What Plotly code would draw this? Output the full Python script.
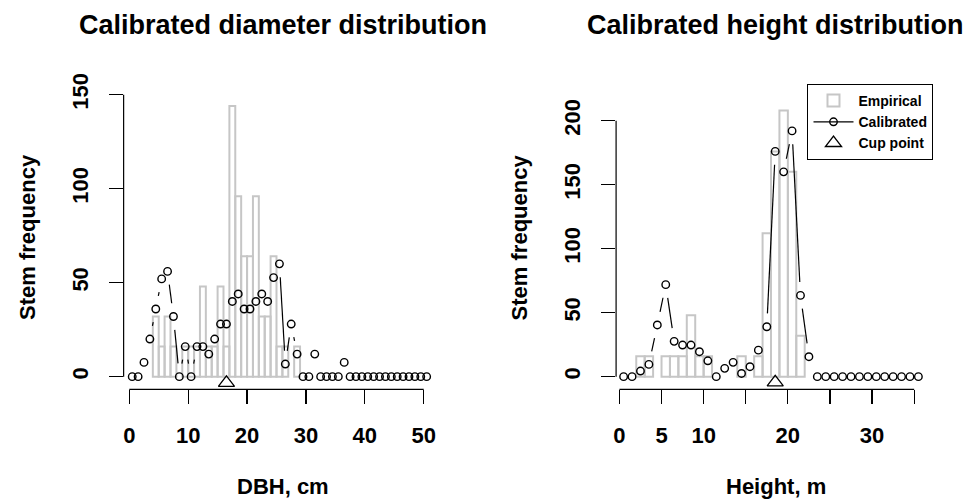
import math
import plotly.graph_objects as go

# ---------------- data ----------------
dbh_mid = [0.5, 1.5, 2.5, 3.5, 4.5, 5.5, 6.5, 7.5, 8.5, 9.5, 10.5, 11.5, 12.5, 13.5, 14.5, 15.5,
           16.5, 17.5, 18.5, 19.5, 20.5, 21.5, 22.5, 23.5, 24.5, 25.5, 26.5, 27.5, 28.5, 29.5,
           30.5, 31.5, 32.5, 33.5, 34.5, 35.5, 36.5, 37.5, 38.5, 39.5, 40.5, 41.5, 42.5, 43.5,
           44.5, 45.5, 46.5, 47.5, 48.5, 49.5, 50.5]
dbh_empirical = [0, 0, 0, 0, 32, 16, 32, 16, 0, 16, 16, 16, 48, 16, 16, 48,
                 16, 144, 96, 64, 64, 96, 32, 32, 64, 16, 16, 0, 16, 0,
                 0, 0, 0, 0, 0, 0, 0, 0, 0, 0, 0, 0, 0, 0,
                 0, 0, 0, 0, 0, 0, 0]
dbh_calibrated = [0, 0, 7.6, 20, 36, 52, 56, 32, 0, 16, 0, 16, 16, 12, 20, 28,
                  28, 40, 44, 36, 36, 40, 44, 40, 52.7, 60, 6.7, 28, 12, 0,
                  0, 12, 0, 0, 0, 0, 7.6, 0, 0, 0, 0, 0, 0, 0,
                  0, 0, 0, 0, 0, 0, 0]
dbh_cup_x = [16.5]
dbh_cup_y = [-3.3]

ht_mid = [0.5, 1.5, 2.5, 3.5, 4.5, 5.5, 6.5, 7.5, 8.5, 9.5, 10.5, 11.5, 12.5, 13.5, 14.5, 15.5,
          16.5, 17.5, 18.5, 19.5, 20.5, 21.5, 22.5, 23.5, 24.5, 25.5, 26.5, 27.5, 28.5, 29.5,
          30.5, 31.5, 32.5, 33.5, 34.5, 35.5]
ht_empirical = [0, 0, 16, 16, 0, 16, 16, 16, 48, 16, 16, 0, 0, 0, 16, 0,
                16, 112, 176, 208, 160, 32, 0, 0, 0, 0, 0, 0, 0, 0,
                0, 0, 0, 0, 0, 0]
ht_calibrated = [0, 0, 4.4, 9.6, 40.4, 71.9, 27.6, 24.7, 24.7, 19.5, 12.4, 0, 6.5, 11.2, 2.5, 7.8,
                 20.7, 39, 176, 160, 192, 63.5, 15.6, 0, 0, 0, 0, 0, 0, 0,
                 0, 0, 0, 0, 0, 0]
ht_cup_x = [18.5]
ht_cup_y = [-4.5]

dbh_xticks = [0, 10, 20, 30, 40, 50]
dbh_xticktext = ["0", "10", "20", "30", "40", "50"]
dbh_yticks = [0, 50, 100, 150]
ht_xticks = [0, 5, 10, 15, 20, 25, 30, 35]
ht_xticktext = ["0", "5", "10", "", "20", "", "30", ""]
ht_yticks = [0, 50, 100, 150, 200]

# ---------------- layout geometry (pixels) ----------------
W, H = 968, 500
FONT = "Liberation Sans"

panels = {
    "L": dict(x0=126.67, sx=5.907, y0=376.67, sy=1.88, left=121, right=441, bottom=389.3, top=58),
    "R": dict(x0=618.33, sx=8.448, y0=376.67, sy=1.28, left=615, right=935, bottom=389.3, top=58),
}
for p in panels.values():
    p["xr"] = [(p["left"] - p["x0"]) / p["sx"], (p["right"] - p["x0"]) / p["sx"]]
    p["yr"] = [(p["y0"] - p["bottom"]) / p["sy"], (p["y0"] - p["top"]) / p["sy"]]
    p["xd"] = [p["left"] / W, p["right"] / W]
    p["yd"] = [1 - p["bottom"] / H, 1 - p["top"] / H]

GAP = 13.4  # pixel gap around points (R type="b")


def gapped(xs, ys, sx, sy, gap):
    gx, gy = [], []
    for i in range(len(xs) - 1):
        ddx, ddy = xs[i + 1] - xs[i], ys[i + 1] - ys[i]
        d = math.hypot(ddx * sx, ddy * sy)
        if d > 2 * gap:
            f = gap / d
            gx += [xs[i] + ddx * f, xs[i + 1] - ddx * f, None]
            gy += [ys[i] + ddy * f, ys[i + 1] - ddy * f, None]
    return gx, gy


BAR_COL = "#c6c6c6"
fig = go.Figure()


def add_panel(key, xaxis, yaxis, mids, emp, cal, cupx, cupy, legend):
    p = panels[key]
    fig.add_trace(go.Bar(
        x=mids, y=[v if v > 0 else None for v in emp], width=1,
        marker=dict(color="rgba(0,0,0,0)", line=dict(color=BAR_COL, width=2)),
        name="Empirical", showlegend=legend, xaxis=xaxis, yaxis=yaxis))
    gx, gy = gapped(mids, cal, p["sx"], p["sy"], GAP)
    fig.add_trace(go.Scatter(
        x=gx, y=gy, mode="lines", line=dict(color="black", width=1.2),
        showlegend=False, hoverinfo="skip", xaxis=xaxis, yaxis=yaxis))
    fig.add_trace(go.Scatter(
        x=mids, y=cal, mode="markers",
        marker=dict(symbol="circle-open", size=7.5, color="black", line=dict(width=1.4)),
        showlegend=False, name="Calibrated", xaxis=xaxis, yaxis=yaxis))
    if legend:
        fig.add_trace(go.Scatter(
            x=[None], y=[None], mode="lines+markers", name="Calibrated",
            line=dict(color="black", width=1.2),
            marker=dict(symbol="circle-open", size=7.5, color="black", line=dict(width=1.4)),
            xaxis=xaxis, yaxis=yaxis))
    fig.add_trace(go.Scatter(
        x=cupx, y=cupy, mode="markers", name="Cup point", showlegend=legend,
        marker=dict(symbol="triangle-up-open", size=14, color="black", line=dict(width=1.3)),
        xaxis=xaxis, yaxis=yaxis))


add_panel("L", "x", "y", dbh_mid, dbh_empirical, dbh_calibrated, dbh_cup_x, dbh_cup_y, False)
add_panel("R", "x2", "y2", ht_mid, ht_empirical, ht_calibrated, ht_cup_x, ht_cup_y, True)

tickfont = dict(family=FONT, size=22, color="black", weight="bold")
axis_common = dict(showgrid=False, zeroline=False, showline=False, ticks="outside",
                   ticklen=14, tickwidth=1.2, tickcolor="black", tickfont=tickfont,
                   ticklabelstandoff=12, fixedrange=True)

fig.update_layout(
    xaxis=dict(domain=panels["L"]["xd"], range=panels["L"]["xr"], anchor="y",
               tickmode="array", tickvals=dbh_xticks, ticktext=dbh_xticktext, **axis_common),
    yaxis=dict(domain=panels["L"]["yd"], range=panels["L"]["yr"], anchor="x",
               tickmode="array", tickvals=dbh_yticks, tickangle=-90, **axis_common),
    xaxis2=dict(domain=panels["R"]["xd"], range=panels["R"]["xr"], anchor="y2",
                tickmode="array", tickvals=ht_xticks, ticktext=ht_xticktext, **axis_common),
    yaxis2=dict(domain=panels["R"]["yd"], range=panels["R"]["yr"], anchor="x2",
                tickmode="array", tickvals=ht_yticks, tickangle=-90, **axis_common),
)

# axis lines spanning first to last tick (R style)
shapes = []
for xa, ya, xt, yt in [("x", "y", dbh_xticks, dbh_yticks), ("x2", "y2", ht_xticks, ht_yticks)]:
    shapes.append(dict(type="line", xref=xa, yref=ya + " domain", x0=xt[0], x1=xt[-1], y0=0, y1=0,
                       line=dict(color="black", width=1.2)))
    shapes.append(dict(type="line", xref=xa + " domain", yref=ya, x0=0, x1=0, y0=yt[0], y1=yt[-1],
                       line=dict(color="black", width=1.2)))

titlefont = dict(family=FONT, size=27, color="black", weight="bold")
labfont = dict(family=FONT, size=22, color="black", weight="bold")
annotations = []
for key, title, xlab in [("L", "Calibrated diameter distribution", "DBH, cm"),
                          ("R", "Calibrated height distribution", "Height, m")]:
    p = panels[key]
    cx = (p["left"] + p["right"]) / 2 / W
    annotations.append(dict(text=title, x=cx, y=1 - 25 / H, xref="paper", yref="paper",
                            xanchor="center", yanchor="middle", showarrow=False, font=titlefont))
    annotations.append(dict(text=xlab, x=cx, y=1 - (p["bottom"] + 97) / H, xref="paper", yref="paper",
                            xanchor="center", yanchor="middle", showarrow=False, font=labfont))
    annotations.append(dict(text="Stem frequency", x=(p["left"] - 97) / W, y=1 - 237 / H,
                            xref="paper", yref="paper", xanchor="center", yanchor="middle",
                            textangle=-90, showarrow=False, font=labfont))

fig.update_layout(
    width=W, height=H, margin=dict(l=0, r=0, t=0, b=0),
    paper_bgcolor="white", plot_bgcolor="white",
    barmode="overlay", bargap=0,
    shapes=shapes, annotations=annotations,
    showlegend=True,
    legend=dict(x=807 / W, y=1 - 84 / H, xanchor="left", yanchor="top",
                bordercolor="black", borderwidth=1, bgcolor="white",
                font=dict(family=FONT, size=14, color="black", weight="bold"),
                traceorder="normal", itemwidth=40),
)

fig.write_html("out.html", config={"displayModeBar": False, "staticPlot": True},
               post_script="document.body.style.margin='0px';document.body.style.overflow='hidden';")
